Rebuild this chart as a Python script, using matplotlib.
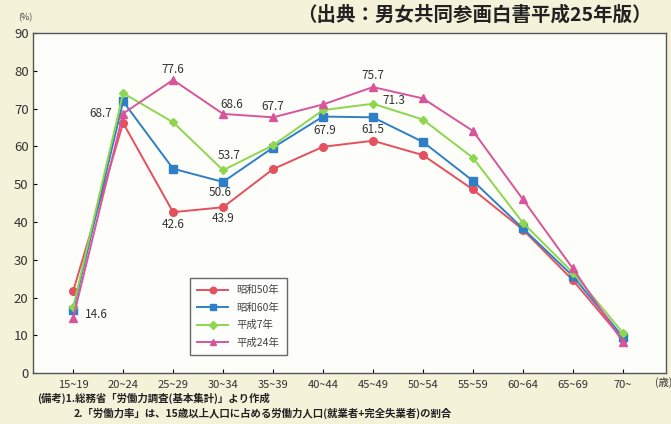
# -*- coding: utf-8 -*-
import numpy as np
import matplotlib.pyplot as plt

plt.rcParams['font.family'] = ['Noto Sans CJK JP', 'DejaVu Sans']

# 女性の年齢階級別労働力率 (%)
ages = ['15~19', '20~24', '25~29', '30~34', '35~39', '40~44', '45~49',
        '50~54', '55~59', '60~64', '65~69', '70~']
s50 = [21.7, 66.2, 42.6, 43.9, 54.0, 59.9, 61.5, 57.7, 48.6, 38.0, 24.6, 8.9]
s60 = [16.6, 71.9, 54.1, 50.6, 59.7, 67.9, 67.7, 61.2, 50.9, 38.3, 25.7, 9.6]
h7 = [17.4, 74.1, 66.4, 53.7, 60.3, 69.6, 71.3, 67.1, 57.0, 39.8, 26.6, 10.7]
h24 = [14.6, 68.7, 77.6, 68.6, 67.7, 71.1, 75.7, 72.7, 64.1, 46.0, 27.7, 8.3]
names = ['昭和50年', '昭和60年', '平成7年', '平成24年']

# 数値ラベル (系列番号, 年齢階級番号, ずらし量px)
labels = [(3, 1, (-22, 0)), (3, 2, (0, 10)), (3, 3, (9, 9)), (2, 3, (6, 15)),
          (1, 3, (-3, -11)), (0, 2, (0, -12)), (0, 3, (0, -11)), (3, 0, (23, 3)),
          (3, 4, (0, 11)), (3, 6, (0, 12)), (2, 6, (21, 3)), (1, 5, (2, -14)),
          (0, 6, (0, 11))]

series = [s50, s60, h7, h24]
colors = ['#e4505e', '#2f7fc6', '#8ed64e', '#d8559b']
markers = ['o', 's', 'D', '^']
msizes = [5.5, 5.5, 4.5, 5.5]

fig = plt.figure(figsize=(6.71, 4.24), dpi=100, facecolor='#f4f2d9')
ax = fig.add_axes([0.0487, 0.120, 0.9435, 0.802])
ax.set_facecolor('#fdfdf9')

x = np.arange(len(ages))
for s, c, m, ms, nm in zip(series, colors, markers, msizes, names):
    ax.plot(x, s, color=c, marker=m, markersize=ms, linewidth=1.4, label=nm)

for si, i, off in labels:
    v = series[si][i]
    ax.annotate('%.1f' % v, (x[i], v), xytext=off, textcoords='offset pixels',
                ha='center', va='center', fontsize=8.5, color='#333333')

ax.set_xlim(-0.81, 11.86)
ax.set_ylim(0, 90)
ax.set_yticks(np.arange(0, 91, 10))
ax.set_xticks(x)
ax.set_xticklabels(ages, fontsize=8, color='#333333')
ax.tick_params(axis='y', labelsize=9.5, labelcolor='#333333', direction='in',
               length=3, pad=3)
ax.tick_params(axis='x', direction='in', length=3, pad=5)
for sp in ax.spines.values():
    sp.set_color('#555555')
    sp.set_linewidth(1.0)

leg = ax.legend(loc='upper left', bbox_to_anchor=(0.24, 0.295), fontsize=7.5,
                frameon=True, fancybox=False, handlelength=3.0, markerscale=0.85,
                borderpad=0.7, labelspacing=0.7, edgecolor='#444444')
leg.get_frame().set_linewidth(1.0)
for t in leg.get_texts():
    t.set_color('#444444')

fig.text(0.443, 0.965, '（出典：男女共同参画白書平成25年版）', fontsize=14,
         fontweight='bold', color='#222222', va='center')
fig.text(0.027, 0.958, '(%)', fontsize=6.5, color='#444444', va='center')
fig.text(0.976, 0.097, '(歳)', fontsize=7.5, color='#333333', va='center')
fig.text(0.055, 0.061, '(備考)1.総務省「労働力調査(基本集計)」より作成',
         fontsize=7.5, fontweight='bold', color='#222222', va='center')
fig.text(0.11, 0.026, '2.「労働力率」は、15歳以上人口に占める労働力人口(就業者+完全失業者)の割合',
         fontsize=7.5, fontweight='bold', color='#222222', va='center')

fig.savefig('out.png', dpi=100, facecolor=fig.get_facecolor())
